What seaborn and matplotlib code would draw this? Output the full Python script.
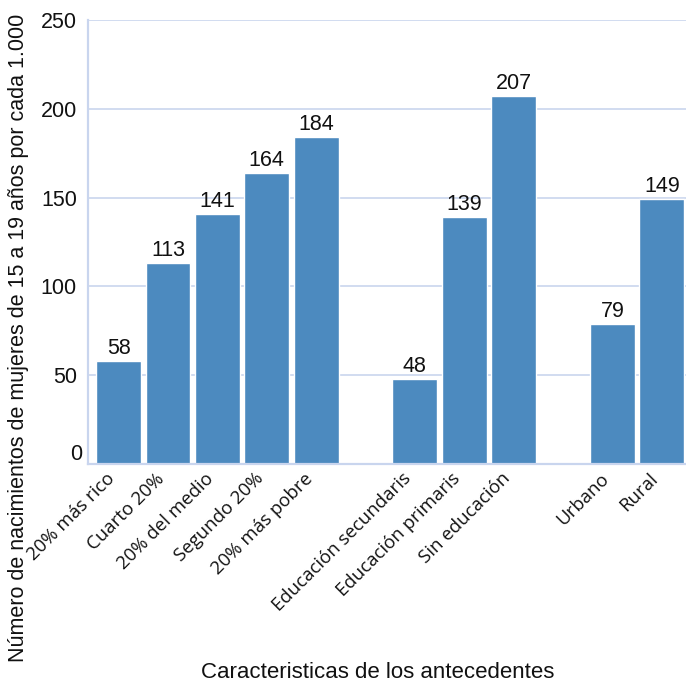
import matplotlib
matplotlib.use("Agg")
import matplotlib.pyplot as plt
from matplotlib.transforms import ScaledTranslation
import pandas as pd
import seaborn as sns

# Adolescent birth rate by background characteristic
wealth = ["20% más rico", "Cuarto 20%", "20% del medio", "Segundo 20%", "20% más pobre"]
wealth_vals = [58, 113, 141, 164, 184]
education = ["Educación secundaris", "Educación primaris", "Sin educación"]
education_vals = [48, 139, 207]
residence = ["Urbano", "Rural"]
residence_vals = [79, 149]

yticks = [0, 50, 100, 150, 200, 250]
xlabel = "Caracteristicas de los antecedentes"
ylabel = "Número de nacimientos de mujeres de 15 a 19 años por cada 1.000"

sns.set_theme(style="white")
plt.rcParams["font.family"] = ["Liberation Sans", "DejaVu Sans"]

BAR = "#4c8abf"
GRID = "#c9d5ee"
INK = "#111111"

df = pd.DataFrame({
    "cat": wealth + education + residence,
    "val": wealth_vals + education_vals + residence_vals,
})
# blank slots separate the three groups
order = wealth + [""] + education + [" "] + residence

fig = plt.figure(figsize=(6.86, 6.85), dpi=100)
ax = fig.add_axes([88 / 686, 1 - 464 / 685, 1 - 88 / 686, (464 - 20) / 685])

sns.barplot(data=df, x="cat", y="val", order=order, color=BAR, saturation=1,
            width=0.91, ax=ax, errorbar=None)

for cont in ax.containers:
    ax.bar_label(cont, fmt="%d", padding=1.5, fontsize=15.5, color=INK)

ax.set_xlim(-0.62, 11.49)
ax.set_ylim(0, 250)
ax.set_yticks(yticks)
ax.set_yticklabels([str(v) for v in yticks])
ax.yaxis.grid(True, color=GRID, linewidth=1.2)
ax.set_axisbelow(True)
ax.tick_params(axis="both", length=0)
ax.tick_params(axis="y", labelsize=15.5, pad=8, labelcolor=INK)
ax.tick_params(axis="x", pad=4, labelcolor=INK)
for lab in ax.get_xticklabels():
    lab.set_rotation(45)
    lab.set_ha("right")
    lab.set_va("top")
    lab.set_fontfamily(["Open Sans", "DejaVu Sans"])
    lab.set_fontsize(13.4)

# lift the zero label off the baseline
zero_lab = ax.get_yticklabels()[0]
zero_lab.set_transform(zero_lab.get_transform() +
                       ScaledTranslation(5 / 100, 12 / 100, fig.dpi_scale_trans))

for side in ["top", "right"]:
    ax.spines[side].set_visible(False)
for side in ["left", "bottom"]:
    ax.spines[side].set_color(GRID)
    ax.spines[side].set_linewidth(1.6)

ax.set_xlabel("")
ax.set_ylabel("")
fig.text(378 / 686, 1 - 673 / 685, xlabel, ha="center", va="center",
         fontsize=16, color=INK)
fig.text(19 / 686, 1 - 338 / 685, ylabel, ha="center", va="center",
         rotation=90, fontsize=15.5, color=INK)

fig.savefig("out.png", dpi=100)
